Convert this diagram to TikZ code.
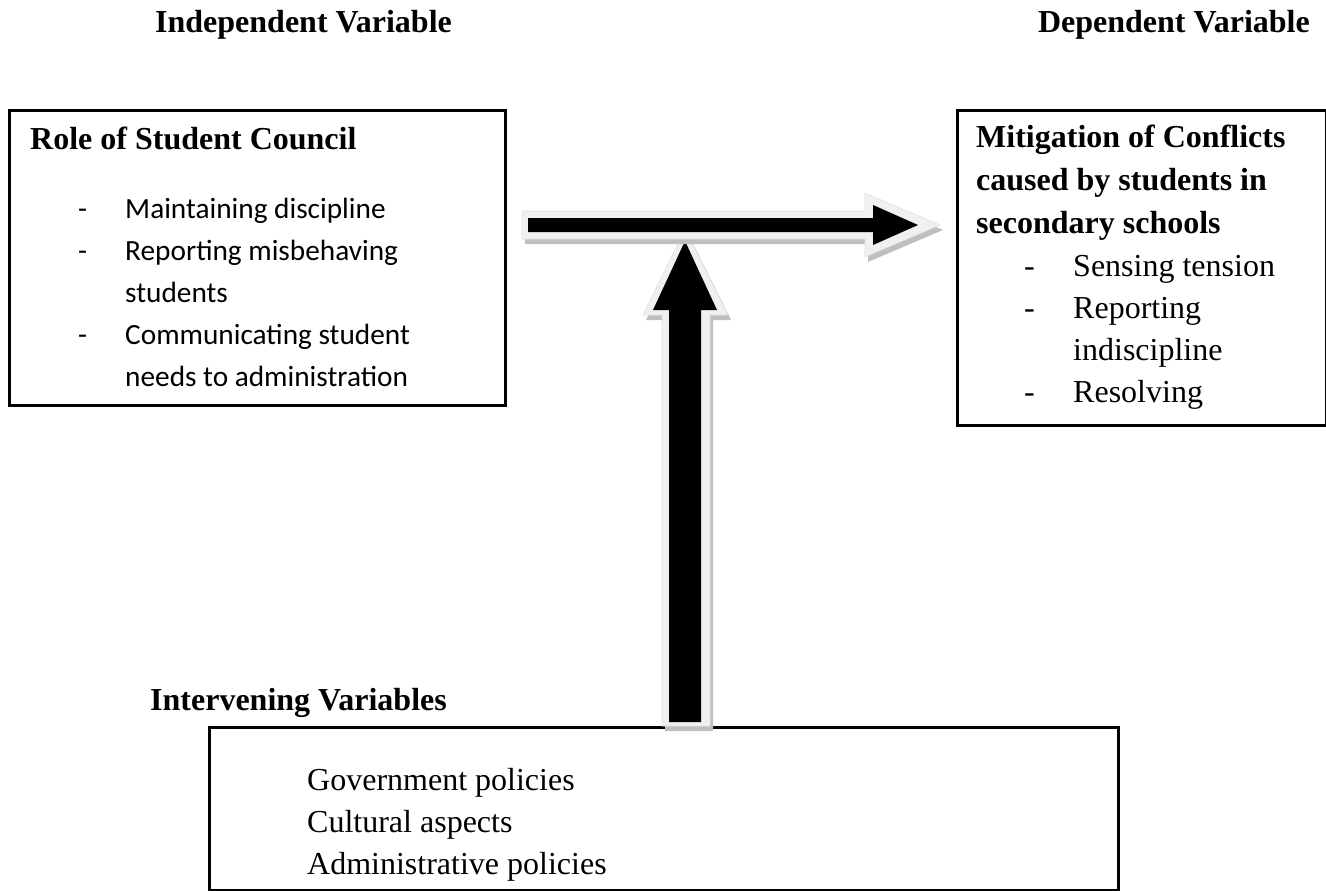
\documentclass[tikz,border=0pt]{standalone}
\usepackage{fontspec}
\setmainfont{Liberation Serif}
\newfontfamily\calibri{Carlito}
\begin{document}
\begin{tikzpicture}[x=1pt,y=-1pt,
  box/.style={draw=black,line width=2.5pt,fill=none,inner sep=0pt,anchor=north west},
  tnr/.style={inner sep=0pt,anchor=base west,font=\fontsize{32}{42}\selectfont},
  tnrb/.style={tnr,font=\fontsize{32}{42}\selectfont\bfseries},
  cal/.style={inner sep=0pt,anchor=base west,font=\calibri\fontsize{29.3}{42}\selectfont},
  shadowfill/.style={fill=black!25,draw=none},
  outlinefill/.style={fill=black!6,draw=black!12,line width=0.6pt},
  corefill/.style={fill=black,draw=none}]
\useasboundingbox (0,0) rectangle (1326,891);
% headers
\node[tnrb] (indep) at (155,33) {Independent Variable};
\node[tnrb,anchor=base east] (dep) at (1310,33) {Dependent Variable};
% left box
\node[box,minimum width=496pt,minimum height=295pt] (ivbox) at (8,109) {};
\node[tnrb] (ivtitle) at (30,149) {Role of Student Council};
\node[cal] (ivd1) at (78,218) {-};
\node[cal] (ivt1) at (125,218) {Maintaining discipline};
\node[cal] (ivd2) at (78,260) {-};
\node[cal] (ivt2) at (125,260) {Reporting misbehaving};
\node[cal] (ivt2b) at (125,302) {students};
\node[cal] (ivd3) at (78,344) {-};
\node[cal] (ivt3) at (125,344) {Communicating student};
\node[cal] (ivt3b) at (125,386) {needs to administration};
% right box
\node[box,minimum width=369pt,minimum height=315pt] (dvbox) at (956,109) {};
\node[tnrb] (dvt1) at (976,147) {Mitigation of Conflicts};
\node[tnrb] (dvt2) at (976,190) {caused by students in};
\node[tnrb] (dvt3) at (976,233) {secondary schools};
\node[tnr] (dvd1) at (1024,276) {-};
\node[tnr] (dvi1) at (1073,276) {Sensing tension};
\node[tnr] (dvd2) at (1024,318) {-};
\node[tnr] (dvi2) at (1073,318) {Reporting};
\node[tnr] (dvi2b) at (1073,360) {indiscipline};
\node[tnr] (dvd3) at (1024,402) {-};
\node[tnr] (dvi3) at (1073,402) {Resolving};
% intervening
\node[tnrb] (intv) at (150,710) {Intervening Variables};
\node[box,minimum width=909pt,minimum height=163pt] (intbox) at (208,726) {};
\node[tnr] (in1) at (307,790) {Government policies};
\node[tnr] (in2) at (307,832) {Cultural aspects};
\node[tnr] (in3) at (307,874) {Administrative policies};
% vertical block arrow
\begin{scope}[shift={(3,5)}]
\fill[shadowfill] (662,726) -- (662,315) -- (643,315) -- (685,229) -- (728,315) -- (710,315) -- (710,726) -- cycle;
\end{scope}
\filldraw[outlinefill] (662,726) -- (662,315) -- (643,315) -- (685,229) -- (728,315) -- (710,315) -- (710,726) -- cycle;
\fill[corefill] (669,722) -- (669,310) -- (653,310) -- (685,241) -- (717,310) -- (701,310) -- (701,722) -- cycle;
% horizontal block arrow
\begin{scope}[shift={(3,5)}]
\fill[shadowfill] (522,211) -- (865,211) -- (865,193) -- (940,225) -- (865,257) -- (865,239) -- (522,239) -- cycle;
\end{scope}
\filldraw[outlinefill] (522,211) -- (865,211) -- (865,193) -- (940,225) -- (865,257) -- (865,239) -- (522,239) -- cycle;
\fill[corefill] (528,218) -- (873,218) -- (873,205) -- (918,225) -- (873,245) -- (873,232) -- (528,232) -- cycle;
\end{tikzpicture}
\end{document}
